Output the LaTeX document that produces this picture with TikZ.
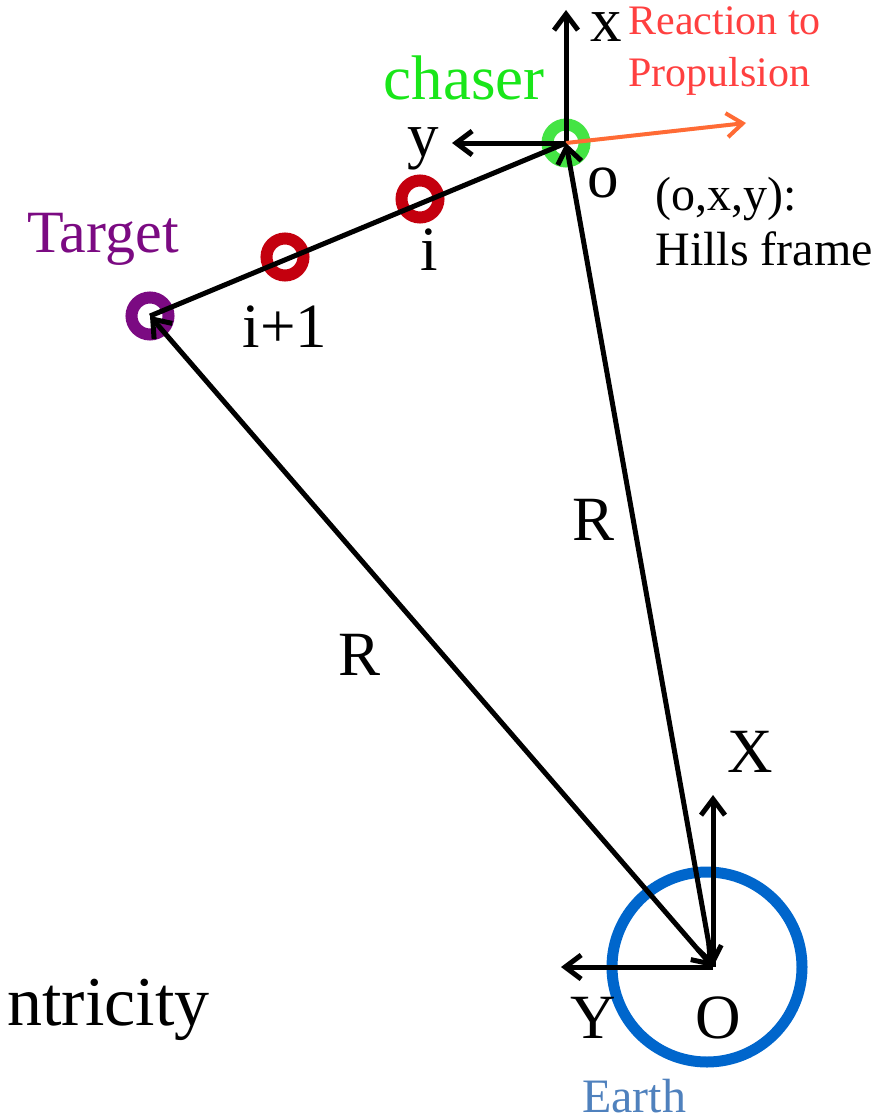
\documentclass[tikz,border=0pt]{standalone}
\usepackage{fontspec}
\setmainfont{Liberation Serif}
\usetikzlibrary{arrows.meta,positioning}
\definecolor{chasergreen}{HTML}{19E619}
\definecolor{chaserring}{HTML}{44E444}
\definecolor{reactred}{HTML}{FF4040}
\definecolor{thrust}{HTML}{FF6B35}
\definecolor{ringred}{HTML}{C4000E}
\definecolor{tgtpurple}{HTML}{7B0A82}
\definecolor{earthring}{HTML}{0066CC}
\definecolor{earthtext}{HTML}{4F81BD}
\tikzset{
  ring/.style={circle,draw,line width=6pt,minimum size=18.5pt,inner sep=0pt},
  arr/.style={-{Straight Barb[length=8pt,width=12pt]},line width=2.5pt},
  biarr/.style={{Straight Barb[length=8pt,width=12pt]}-{Straight Barb[length=8pt,width=12pt]},line width=2.5pt},
  lblbig/.style={font=\fontsize{31.5}{36}\selectfont,inner sep=0pt,anchor=base},
  lblmid/.style={font=\fontsize{24}{27.5}\selectfont,inner sep=0pt,anchor=base west,align=left},
  lblsmall/.style={font=\fontsize{21}{26}\selectfont,inner sep=0pt,anchor=base west,align=left,text=reactred}
}
\begin{document}
\begin{tikzpicture}[x=0.5pt,y=-0.5pt]
  \useasboundingbox (0,0) rectangle (877,1113);
  \node[ring,draw=earthring,line width=5.5pt,minimum size=95pt] (earth) at (707,967) {};
  \coordinate (O) at (713,967);
  \node[ring,draw=chaserring] (chaser) at (566,143) {};
  \node[ring,draw=ringred] (pi) at (420,199) {};
  \node[ring,draw=ringred] (pj) at (285,257) {};
  \node[ring,draw=tgtpurple] (tgt) at (150,316) {};
  \coordinate (xtip) at (566,10);
  \coordinate (ytip) at (452,143);
  \coordinate (ftip) at (746,123);
  \coordinate (Xtip) at (713,795);
  \coordinate (Ytip) at (561,967);
  \draw[line width=2.5pt] (tgt.center) -- (chaser.center);
  \draw[arr] (chaser.center) -- (xtip);
  \draw[arr] (chaser.center) -- (ytip);
  \draw[arr,draw=thrust,line width=2pt] (chaser.center) -- (ftip);
  \draw[biarr] (O) -- (chaser.center);
  \draw[biarr] (O) -- (tgt.center);
  \draw[arr] (O) -- (Xtip);
  \draw[arr] (O) -- (Ytip);
  \node[lblbig] (lx) at (606,42) {x};
  \node[lblbig] (ly) at (423,156) {y};
  \node[lblbig] (lo) at (603,197) {o};
  \node[lblbig,text=chasergreen] (lchaser) at (464,100) {chaser};
  \node[lblsmall] (lreact) at (628,87) {Reaction to\\Propulsion};
  \node[lblmid] (lframe) at (655,265) {(o,x,y):\\Hills frame};
  \node[lblbig] (li) at (429,270) {i};
  \node[lblbig] (lj) at (285,347) {i+1};
  \node[lblbig,text=tgtpurple,font=\fontsize{30}{34}\selectfont] (ltgt) at (103,252) {Target};
  \node[lblbig] (lR1) at (594,540) {R};
  \node[lblbig] (lR2) at (360,675) {R};
  \node[lblbig] (lX) at (750,772) {X};
  \node[lblbig] (lY) at (593,1038) {Y};
  \node[lblbig] (lO) at (718,1038) {O};
  \node[lblmid,anchor=base,text=earthtext] (learth) at (634,1112) {Earth};
  \node[lblbig,anchor=base east,font=\fontsize{35}{40}\selectfont] (lecc) at (210,1025) {ntricity};
\end{tikzpicture}
\end{document}
